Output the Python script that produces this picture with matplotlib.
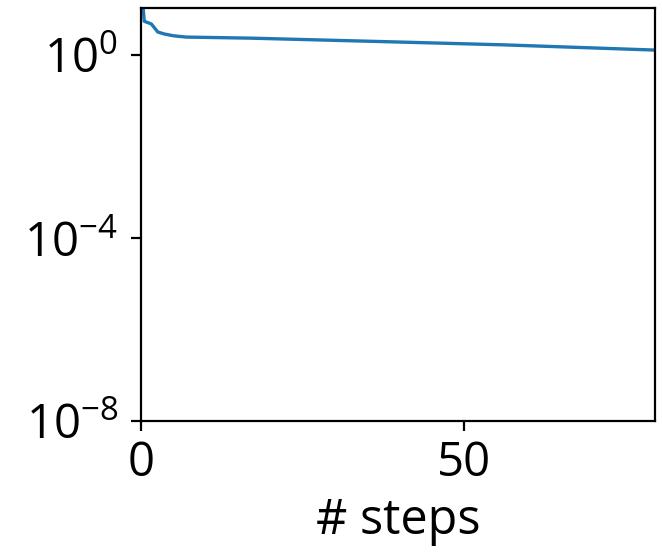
import matplotlib
matplotlib.use("Agg")
import matplotlib.pyplot as plt
from matplotlib.ticker import FixedLocator, LogFormatterSciNotation, NullLocator

plt.rcParams['font.family'] = ['Open Sans', 'DejaVu Sans']
plt.rcParams['mathtext.fontset'] = 'custom'
plt.rcParams['mathtext.rm'] = 'Open Sans'
plt.rcParams['mathtext.it'] = 'Open Sans:italic'
plt.rcParams['mathtext.bf'] = 'Open Sans:bold'

# residual vs. optimisation steps
steps = [0, 0.5, 1.6, 2.6, 3.6, 5, 7, 17, 36, 56, 79.5]
residual = [40.0, 5.5, 4.8, 3.2, 2.9, 2.65, 2.48, 2.35, 2.0, 1.68, 1.29]

x_ticks = [0, 50]
y_ticks = [1e-8, 1e-4, 1e0]

fig = plt.figure(figsize=(6.62, 5.53), dpi=100)
ax = fig.add_axes([0.213, 0.2387, 0.776, 0.7468])
ax.plot(steps, residual, color='#1f77b4', linewidth=2.4)
ax.set_yscale('log')
ax.set_xlim(0, 79.5)
ax.set_ylim(1e-8, 10 ** 1.03)
ax.xaxis.set_major_locator(FixedLocator(x_ticks))
ax.yaxis.set_major_locator(FixedLocator(y_ticks))
ax.yaxis.set_major_formatter(LogFormatterSciNotation())
ax.yaxis.set_minor_locator(NullLocator())
ax.tick_params(labelsize=34, width=1.6, length=7.5)
ax.tick_params(axis='x', pad=6)
ax.tick_params(axis='y', pad=9)
for s in ax.spines.values():
    s.set_linewidth(1.6)
ax.set_xlabel('# steps', fontsize=35, labelpad=7)

fig.savefig('out.png', dpi=100)
